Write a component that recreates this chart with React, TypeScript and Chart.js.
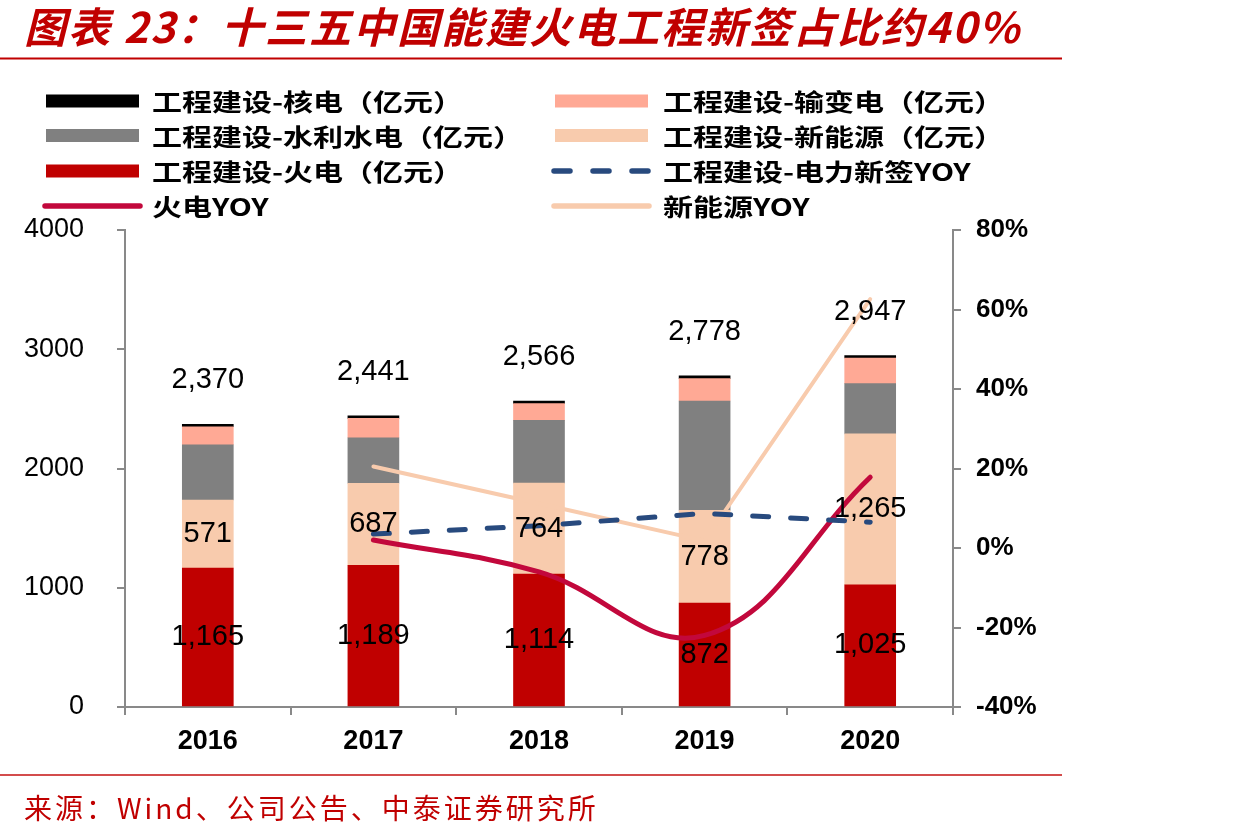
import React, { useEffect, useRef } from "react";
import { Chart, registerables } from "chart.js";

Chart.register(...registerables);

// ---- data ----
const years = ["2016", "2017", "2018", "2019", "2020"];
const thermal = [1165, 1189, 1114, 872, 1025]; // 工程建设-火电（亿元）
const newEnergy = [571, 687, 764, 778, 1265]; // 工程建设-新能源（亿元）
const hydro = [463, 382, 525, 916, 422]; // 工程建设-水利水电（亿元）
const transmission = [151, 163, 141, 187, 215]; // 工程建设-输变电（亿元）
const nuclear = [20, 20, 22, 25, 20]; // 工程建设-核电（亿元）
const signingYoy = [null, 3.5, 5.6, 8.7, 6.5]; // 工程建设-电力新签YOY (%)
const thermalYoy = [null, 2.0, -6.0, -22.0, 17.8]; // 火电YOY (%)
const newEnergyYoy = [null, 20.5, 11.2, 1.8, 62.6]; // 新能源YOY (%)

const leftTicks = { min: 0, max: 4000, step: 1000 };
const rightTicks = { min: -40, max: 80, step: 20 };

const titleText = "图表 23：十三五中国能建火电工程新签占比约40%";
const sourceText = "来源：Wind、公司公告、中泰证券研究所";

// ---- styles ----
const RED = "#C00000";
const AXIS = "#898989";
const CJK = "'Noto Sans CJK SC'";
const LATIN = "'Liberation Sans'";

const fmt = (v: number) => v.toLocaleString("en-US");

// legend layout: [datasetIndex, column, row]
const legendSlots: [number, number, number][] = [
  [4, 0, 0],
  [3, 1, 0],
  [2, 0, 1],
  [1, 1, 1],
  [0, 0, 2],
  [5, 1, 2],
  [6, 0, 3],
  [7, 1, 3],
];
const legendColX = [46, 555];
const legendTextX = [152, 663];
const legendRowY = [101, 135.5, 171, 206];

const overlayPlugin = {
  id: "overlayText",
  afterDatasetsDraw(chart: any) {
    const ctx = chart.ctx as CanvasRenderingContext2D;
    ctx.save();
    ctx.textAlign = "center";
    ctx.textBaseline = "middle";
    ctx.fillStyle = "#000";
    ctx.font = `29px ${LATIN}`;
    const thermalMeta = chart.getDatasetMeta(0);
    const newMeta = chart.getDatasetMeta(1);
    const topMeta = chart.getDatasetMeta(4);
    years.forEach((_, i) => {
      const t = thermalMeta.data[i];
      ctx.fillText(fmt(thermal[i]), t.x, (t.y + t.base) / 2);
      const n = newMeta.data[i];
      ctx.fillText(fmt(newEnergy[i]), n.x, (n.y + n.base) / 2);
      const total = thermal[i] + newEnergy[i] + hydro[i] + transmission[i] + nuclear[i];
      const top = topMeta.data[i];
      ctx.fillText(fmt(total), top.x, top.y - 44);
    });
    ctx.restore();
  },
  afterDraw(chart: any) {
    const ctx = chart.ctx as CanvasRenderingContext2D;
    ctx.save();
    // title
    ctx.fillStyle = RED;
    ctx.textAlign = "left";
    ctx.textBaseline = "middle";
    ctx.font = `italic bold 42px ${CJK}`;
    (ctx as any).letterSpacing = "2px";
    ctx.fillText(titleText, 24, 27);
    (ctx as any).letterSpacing = "0px";
    ctx.fillRect(0, 57.5, 1062, 2);

    // legend
    legendSlots.forEach(([di, col, row]) => {
      const ds = chart.data.datasets[di];
      const x0 = legendColX[col];
      const y = legendRowY[row];
      ctx.save();
      if (ds.type === "line") {
        ctx.strokeStyle = ds.borderColor;
        ctx.lineWidth = 5.5;
        ctx.lineCap = "round";
        if (ds.borderDash) ctx.setLineDash([16, 23]);
        ctx.beginPath();
        ctx.moveTo(x0 - 1, y);
        ctx.lineTo(x0 + 94, y);
        ctx.stroke();
      } else {
        ctx.fillStyle = ds.backgroundColor;
        ctx.fillRect(x0, y - 6.5, 93, 13);
      }
      ctx.restore();
      ctx.save();
      ctx.fillStyle = "#000";
      ctx.font = `bold 24px ${CJK}`;
      ctx.textAlign = "left";
      ctx.textBaseline = "middle";
      ctx.translate(legendTextX[col], y + 1);
      ctx.scale(1.25, 1);
      ctx.fillText(ds.label, 0, 0);
      ctx.restore();
    });

    // source line + note
    ctx.fillStyle = "rgba(192,0,0,0.7)";
    ctx.fillRect(0, 774, 1062, 2);
    ctx.fillStyle = RED;
    ctx.font = `28px ${CJK}`;
    ctx.textAlign = "left";
    ctx.textBaseline = "middle";
    (ctx as any).letterSpacing = "3px";
    ctx.fillText(sourceText, 24, 808);
    (ctx as any).letterSpacing = "0px";
    ctx.restore();
  },
};

export default function App() {
  const ref = useRef<HTMLCanvasElement | null>(null);

  useEffect(() => {
    if (!ref.current) return;
    const barBase = { type: "bar" as const, yAxisID: "y", stack: "s", barThickness: 51, borderWidth: 0, order: 1 };
    const chart = new Chart(ref.current, {
      type: "bar",
      data: {
        labels: years,
        datasets: [
          { ...barBase, label: "工程建设-火电（亿元）", data: thermal, backgroundColor: "#C00000" },
          { ...barBase, label: "工程建设-新能源（亿元）", data: newEnergy, backgroundColor: "#F8CBAD" },
          { ...barBase, label: "工程建设-水利水电（亿元）", data: hydro, backgroundColor: "#808080" },
          { ...barBase, label: "工程建设-输变电（亿元）", data: transmission, backgroundColor: "#FFA995" },
          { ...barBase, label: "工程建设-核电（亿元）", data: nuclear, backgroundColor: "#000000" },
          {
            type: "line",
            label: "工程建设-电力新签YOY",
            data: signingYoy,
            yAxisID: "y1",
            borderColor: "#284A7E",
            borderWidth: 5,
            borderDash: [16, 22],
            borderCapStyle: "round",
            pointRadius: 0,
            tension: 0,
            order: 0,
          },
          {
            type: "line",
            label: "火电YOY",
            data: thermalYoy,
            yAxisID: "y1",
            borderColor: "#C2083C",
            borderWidth: 5,
            borderCapStyle: "round",
            pointRadius: 0,
            tension: 0.4,
            order: 0,
          },
          {
            type: "line",
            label: "新能源YOY",
            data: newEnergyYoy,
            yAxisID: "y1",
            borderColor: "#F8CBAD",
            borderWidth: 4,
            borderCapStyle: "round",
            pointRadius: 0,
            tension: 0,
            order: 0,
          },
        ] as any,
      },
      options: {
        responsive: false,
        animation: false,
        layout: { padding: { top: 230, left: 0, right: 0, bottom: 0 } },
        plugins: { legend: { display: false }, tooltip: { enabled: false } },
        scales: {
          x: {
            stacked: true,
            grid: { offset: true, drawOnChartArea: false, tickLength: 8, color: AXIS, lineWidth: 2 },
            border: { color: AXIS, width: 2 },
            ticks: { color: "#000", font: { family: "Liberation Sans", size: 27, weight: "bold" }, padding: 10 },
            afterFit: (s: any) => {
              s.height = 132;
            },
          },
          y: {
            position: "left",
            stacked: true,
            min: leftTicks.min,
            max: leftTicks.max,
            grid: { drawOnChartArea: false, tickLength: 8, color: AXIS, lineWidth: 2 },
            border: { color: AXIS, width: 2 },
            ticks: {
              stepSize: leftTicks.step,
              color: "#000",
              padding: 33,
              font: { family: "Liberation Sans", size: 27 },
              callback: (v: any) => String(v),
            },
            afterFit: (s: any) => {
              s.width = 125;
            },
          },
          y1: {
            position: "right",
            min: rightTicks.min,
            max: rightTicks.max,
            grid: { drawOnChartArea: false, tickLength: 8, color: AXIS, lineWidth: 2 },
            border: { color: AXIS, width: 2 },
            ticks: {
              stepSize: rightTicks.step,
              color: "#000",
              padding: 15,
              font: { family: "Liberation Sans", size: 26, weight: "bold" },
              callback: (v: any) => `${v}%`,
            },
            afterFit: (s: any) => {
              s.width = 284;
            },
          },
        },
      } as any,
      plugins: [overlayPlugin],
    });
    return () => chart.destroy();
  }, []);

  return (
    <div style={{ position: "absolute", left: 0, top: 0, width: 1237, height: 839, background: "#fff" }}>
      <canvas ref={ref} width={1237} height={839} />
    </div>
  );
}
